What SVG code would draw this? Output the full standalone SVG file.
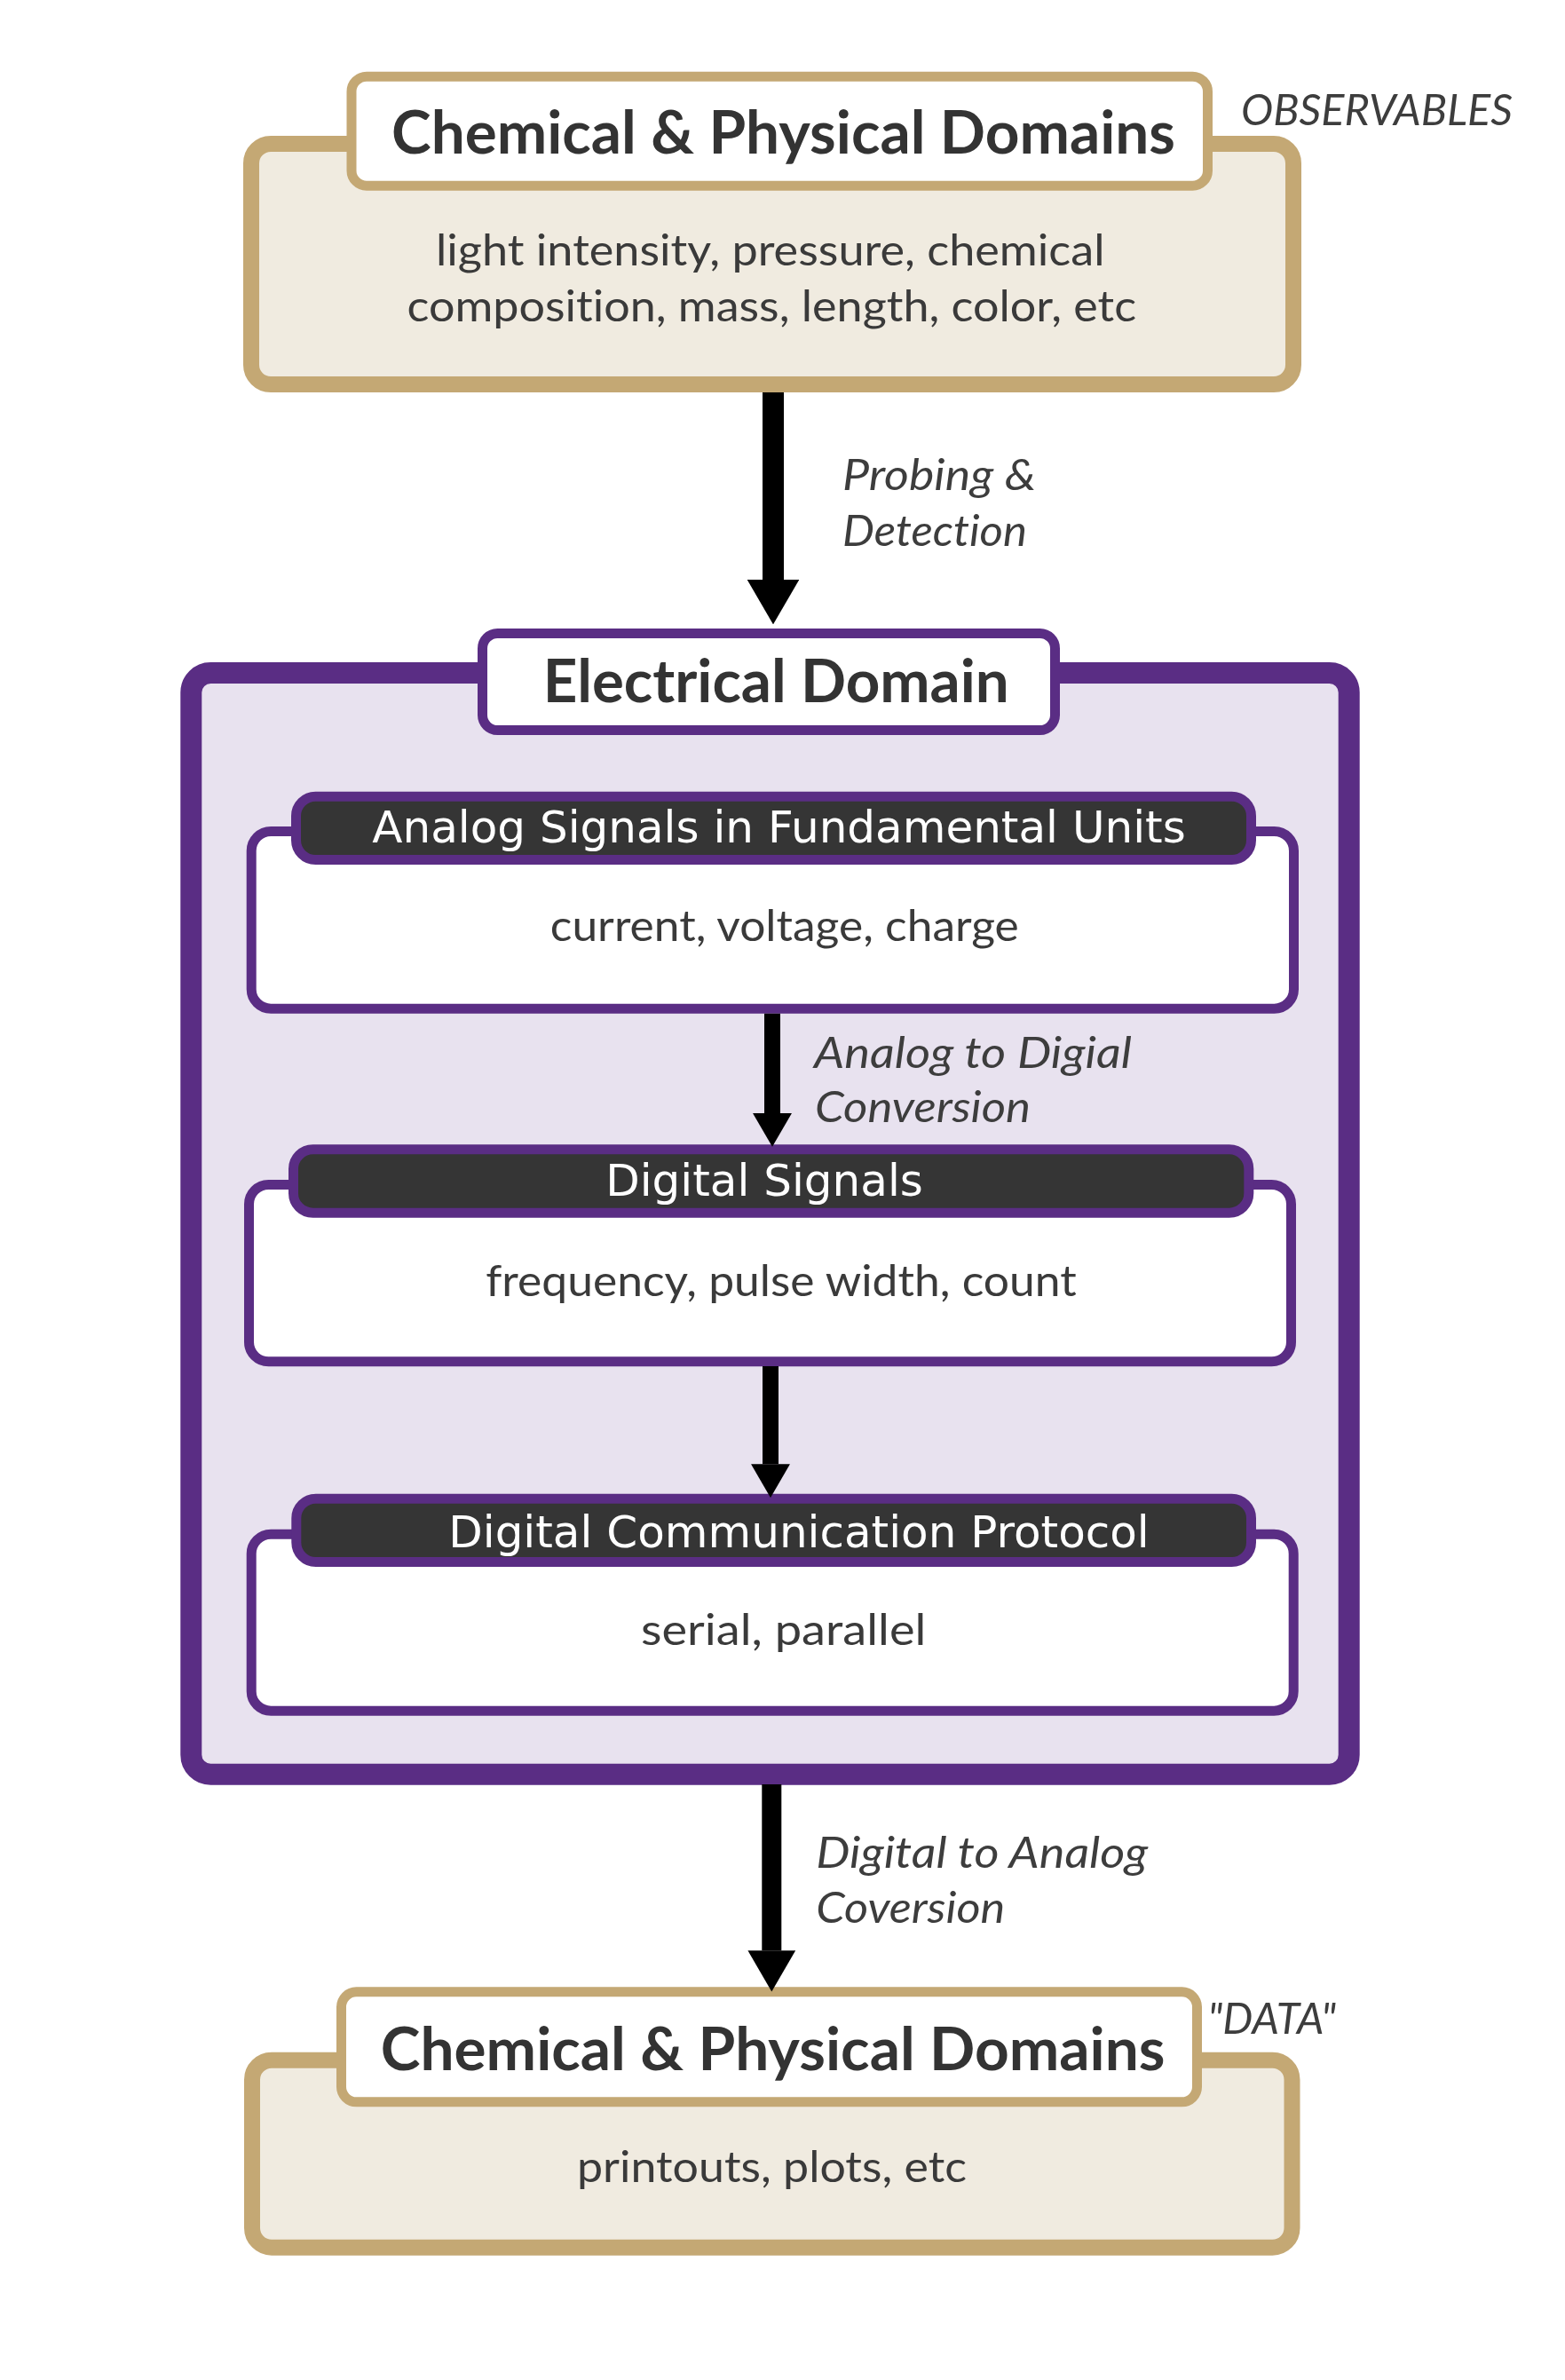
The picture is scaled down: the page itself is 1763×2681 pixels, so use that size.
<svg xmlns="http://www.w3.org/2000/svg" width="1763" height="2681" viewBox="0 0 1763 2681">
<defs>
<style>
.tan-box{fill:#f0ebe0;stroke:#c4a874;stroke-width:18}
.tan-title{fill:#ffffff;stroke:#c4a874;stroke-width:11}
.elec-box{fill:#e8e2ef;stroke:#5a2d84;stroke-width:24}
.elec-title{fill:#ffffff;stroke:#5a2d84;stroke-width:11}
.sub-box{fill:#ffffff;stroke:#5a2d84;stroke-width:11}
.sub-head{fill:#353535;stroke:#5a2d84;stroke-width:11}
text{font-variant-ligatures:none;font-feature-settings:"liga" 0,"dlig" 0}
.title{font-family:Lato,'Open Sans','DejaVu Sans',sans-serif;font-weight:700;font-size:67px;fill:#333333}
.body{font-family:Lato,'Open Sans','DejaVu Sans',sans-serif;font-size:48px;fill:#3a3a3a}
.label{font-family:Lato,'Open Sans','DejaVu Sans',sans-serif;font-style:italic;font-size:48px;fill:#3d3d3d}
.head{font-family:'DejaVu Sans',sans-serif;font-size:50px;fill:#ffffff;text-anchor:middle}
.conn{stroke:#000000;fill:none;marker-end:url(#arrow)}
</style>
<marker id="arrow" viewBox="0 0 21 24.4" markerWidth="2.1" markerHeight="2.44" refX="0" refY="12.2" orient="auto" markerUnits="strokeWidth" preserveAspectRatio="none">
<path d="M0,0 L21,12.2 L0,24.4 z" fill="#000000"/>
</marker>
</defs>
<rect x="0" y="0" width="1763" height="2681" fill="#ffffff"/>

<g id="node-observables">
<rect class="tan-box" x="283" y="162" width="1174" height="271" rx="22"/>
<rect class="tan-title" x="396" y="86.2" width="964.5" height="123" rx="17"/>
<text class="title" x="441" y="173" textLength="883" lengthAdjust="spacingAndGlyphs">Chemical &amp; Physical Domains</text>
<text class="body" x="491" y="299" textLength="753.5" lengthAdjust="spacingAndGlyphs">light intensity, pressure, chemical</text>
<text class="body" x="458.5" y="362" textLength="821.5" lengthAdjust="spacingAndGlyphs">composition, mass, length, color, etc</text>
<text class="label" x="1398" y="141" textLength="306" lengthAdjust="spacingAndGlyphs">OBSERVABLES</text>
</g>

<g id="node-electrical">
<rect class="elec-box" x="215.3" y="758" width="1304.4" height="1240.7" rx="22"/>
<rect class="elec-title" x="543.5" y="713.5" width="645" height="109" rx="17"/>
<text class="title" x="611.7" y="790.5" textLength="525" lengthAdjust="spacingAndGlyphs">Electrical Domain</text>
</g>

<g id="node-analog">
<rect class="sub-box" x="283.2" y="936.5" width="1174.3" height="199.7" rx="22"/>
<rect class="sub-head" x="333.5" y="897.2" width="1076" height="71.3" rx="22"/>
<text class="head" x="877.5" y="949">Analog Signals in Fundamental Units</text>
<text class="body" x="619.8" y="1060" textLength="528" lengthAdjust="spacingAndGlyphs">current, voltage, charge</text>
</g>

<g id="node-digital">
<rect class="sub-box" x="280.5" y="1334.5" width="1174" height="199.3" rx="22"/>
<rect class="sub-head" x="330.5" y="1294.8" width="1076.3" height="71.4" rx="22"/>
<text class="head" x="861" y="1346.7">Digital Signals</text>
<text class="body" x="547.3" y="1460" textLength="665.4" lengthAdjust="spacingAndGlyphs">frequency, pulse width, count</text>
</g>

<g id="node-protocol">
<rect class="sub-box" x="283.2" y="1728.2" width="1174" height="199" rx="22"/>
<rect class="sub-head" x="333.8" y="1688.2" width="1075.7" height="71.3" rx="22"/>
<text class="head" x="900" y="1742.5">Digital Communication Protocol</text>
<text class="body" x="722" y="1852.7" textLength="321.3" lengthAdjust="spacingAndGlyphs">serial, parallel</text>
</g>

<g id="node-data">
<rect class="tan-box" x="284" y="2320.7" width="1171.5" height="211" rx="22"/>
<rect class="tan-title" x="384.5" y="2243.8" width="964" height="124" rx="17"/>
<text class="title" x="428.8" y="2331.7" textLength="883.7" lengthAdjust="spacingAndGlyphs">Chemical &amp; Physical Domains</text>
<text class="body" x="650" y="2458.3" textLength="439" lengthAdjust="spacingAndGlyphs">printouts, plots, etc</text>
<text class="label" x="1360.5" y="2291" textLength="144.5" lengthAdjust="spacingAndGlyphs">"DATA"</text>
</g>

<g id="connectors">
<line class="conn" x1="871" y1="442" x2="871" y2="653" stroke-width="24"/>
<line class="conn" x1="870" y1="1141.7" x2="870" y2="1254" stroke-width="18"/>
<line class="conn" x1="868" y1="1539" x2="868" y2="1649.3" stroke-width="18"/>
<line class="conn" x1="869.3" y1="2010" x2="869.3" y2="2197.3" stroke-width="22"/>
<text class="label" x="949" y="552" textLength="218" lengthAdjust="spacingAndGlyphs">Probing &amp;</text>
<text class="label" x="949" y="615" textLength="208" lengthAdjust="spacingAndGlyphs">Detection</text>
<text class="label" x="917" y="1202.7" textLength="358" lengthAdjust="spacingAndGlyphs">Analog to Digial</text>
<text class="label" x="918" y="1264" textLength="243" lengthAdjust="spacingAndGlyphs">Conversion</text>
<text class="label" x="919.3" y="2104" textLength="374" lengthAdjust="spacingAndGlyphs">Digital to Analog</text>
<text class="label" x="919.3" y="2165.7" textLength="213" lengthAdjust="spacingAndGlyphs">Coversion</text>
</g>
</svg>
